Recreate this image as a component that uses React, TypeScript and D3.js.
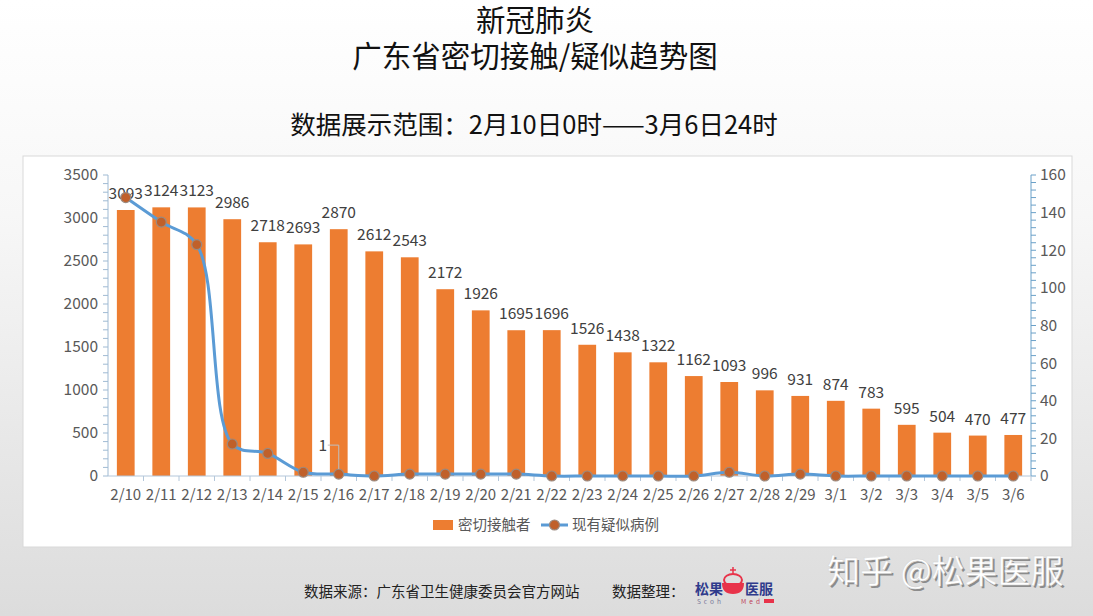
import * as d3 from 'd3'

const W = 1093
const H = 616

// Categories (dates) and series values
const dates = [
  '2/10', '2/11', '2/12', '2/13', '2/14', '2/15', '2/16', '2/17', '2/18', '2/19',
  '2/20', '2/21', '2/22', '2/23', '2/24', '2/25', '2/26', '2/27', '2/28', '2/29',
  '3/1', '3/2', '3/3', '3/4', '3/5', '3/6'
]
const closeContacts = [
  3093, 3124, 3123, 2986, 2718, 2693, 2870, 2612, 2543, 2172,
  1926, 1695, 1696, 1526, 1438, 1322, 1162, 1093, 996, 931,
  874, 783, 595, 504, 470, 477
]
const suspected = [
  148, 135, 123, 17, 12, 2, 1, 0, 1, 1,
  1, 1, 0, 0, 0, 0, 0, 2, 0, 1,
  0, 0, 0, 0, 0, 0
]
const leftTicks = [0, 500, 1000, 1500, 2000, 2500, 3000, 3500]
const rightTicks = [0, 20, 40, 60, 80, 100, 120, 140, 160]
const labeledSuspectedIndex = 6 // only 2/16 carries a value label

const seriesNames = ['密切接触者', '现有疑似病例']

const FONT = '"Noto Sans CJK SC", "Noto Sans", sans-serif'
const BAR = '#ED7D31'
const LINE = '#5B9BD5'

const plot = { left: 108, right: 1031, top: 175, bottom: 476 }

export default function App() {
  const x = d3.scaleBand<string>()
    .domain(dates)
    .range([plot.left, plot.right])
    .paddingInner(0.5)
    .paddingOuter(0.25)
  const band = d3.scaleBand<string>().domain(dates).range([plot.left, plot.right])
  const yL = d3.scaleLinear().domain([0, 3500]).range([plot.bottom, plot.top])
  const yR = d3.scaleLinear().domain([0, 160]).range([plot.bottom, plot.top])

  const cx = (d: string) => band(d)! + band.bandwidth() / 2

  const linePath = d3.line<number>()
    .x((_, i) => cx(dates[i]))
    .y(v => yR(v))
    .curve(d3.curveCatmullRom.alpha(0.5))(suspected)

  const leftMinor = d3.range(0, 3501, 100)
  const rightMinor = d3.range(0, 161, 4)

  const lp = { x: cx(dates[labeledSuspectedIndex]), y: yR(suspected[labeledSuspectedIndex]) }

  return (
    <svg width={W} height={H} style={{ position: 'absolute', left: 0, top: 0 }} fontFamily={FONT}>
      <defs>
        <linearGradient id="bg" x1="0" y1="0" x2="0" y2="1">
          <stop offset="0%" stopColor="#ffffff" />
          <stop offset="35%" stopColor="#f7f7f7" />
          <stop offset="100%" stopColor="#dcdcdc" />
        </linearGradient>
      </defs>
      <rect width={W} height={H} fill="url(#bg)" />

      {/* titles */}
      <text x={535} y={31} textAnchor="middle" fontSize={29.5} fill="#111">新冠肺炎</text>
      <text x={535} y={67} textAnchor="middle" fontSize={29.5} fill="#111">广东省密切接触/疑似趋势图</text>
      <text x={534} y={134} textAnchor="middle" fontSize={25.5} fill="#111">数据展示范围：2月10日0时——3月6日24时</text>

      {/* chart box */}
      <rect x={23} y={156} width={1049} height={391} fill="#fff" stroke="#d9d9d9" />

      {/* bars */}
      {closeContacts.map((v, i) => (
        <rect key={dates[i]} x={x(dates[i])} y={yL(v)} width={x.bandwidth()}
          height={plot.bottom - yL(v)} fill={BAR} />
      ))}

      {/* bar labels */}
      {closeContacts.map((v, i) => (
        <text key={'l' + dates[i]} x={cx(dates[i])} y={yL(v) - 11} textAnchor="middle"
          fontSize={15.5} fill="#404040">{v}</text>
      ))}

      {/* left axis */}
      <line x1={plot.left} x2={plot.left} y1={plot.top} y2={plot.bottom} stroke="#9fbad3" />
      {leftMinor.map(t => (
        <line key={'lm' + t} x1={plot.left - 5} x2={plot.left} y1={yL(t)} y2={yL(t)} stroke="#9fbad3" />
      ))}
      {leftTicks.map(t => (
        <text key={'lt' + t} x={plot.left - 10} y={yL(t)} dy="0.35em" textAnchor="end"
          fontSize={15.5} fill="#595959">{t}</text>
      ))}

      {/* right axis */}
      <line x1={plot.right} x2={plot.right} y1={plot.top} y2={plot.bottom} stroke="#6aa0c8" />
      {rightMinor.map(t => (
        <line key={'rm' + t} x1={plot.right} x2={plot.right + 5} y1={yR(t)} y2={yR(t)} stroke="#6aa0c8" />
      ))}
      {rightTicks.map(t => (
        <text key={'rt' + t} x={plot.right + 9} y={yR(t)} dy="0.35em" textAnchor="start"
          fontSize={15.5} fill="#595959">{t}</text>
      ))}

      {/* x axis */}
      <line x1={plot.left} x2={plot.right} y1={plot.bottom} y2={plot.bottom} stroke="#b4c7da" />
      {dates.map(d => (
        <line key={'xt' + d} x1={band(d)! + band.bandwidth()} x2={band(d)! + band.bandwidth()}
          y1={plot.bottom} y2={plot.bottom + 5} stroke="#b4c7da" />
      ))}
      {dates.map(d => (
        <text key={'xl' + d} x={cx(d)} y={plot.bottom + 24} textAnchor="middle"
          fontSize={15} fill="#595959">{d}</text>
      ))}

      {/* suspected line */}
      <path d={linePath ?? ''} fill="none" stroke={LINE} strokeWidth={3} />
      {suspected.map((v, i) => (
        <circle key={'p' + dates[i]} cx={cx(dates[i])} cy={yR(v)} r={5}
          fill="#c0602a" stroke="#9c8a7f" strokeWidth={1.2} />
      ))}

      {/* the one line value label with leader */}
      <polyline points={`${lp.x - 11},${lp.y - 29} ${lp.x},${lp.y - 29} ${lp.x},${lp.y - 5}`}
        fill="none" stroke="#bfbfbf" />
      <text x={lp.x - 16} y={lp.y - 23} textAnchor="middle" fontSize={15.5} fill="#404040">
        {suspected[labeledSuspectedIndex]}
      </text>

      {/* legend */}
      <rect x={433} y={520} width={20} height={10} fill={BAR} />
      <text x={458} y={530} fontSize={14.5} fill="#595959">{seriesNames[0]}</text>
      <line x1={541} x2={568} y1={525} y2={525} stroke={LINE} strokeWidth={3} />
      <circle cx={554.5} cy={525} r={5} fill="#c0602a" stroke="#9c8a7f" strokeWidth={1.2} />
      <text x={572} y={530} fontSize={14.5} fill="#595959">{seriesNames[1]}</text>

      {/* footer */}
      <text x={304} y={597} fontSize={14.5} fill="#222">数据来源：广东省卫生健康委员会官方网站</text>
      <text x={612} y={597} fontSize={14.5} fill="#222">数据整理：</text>

      {/* logo */}
      <text x={695} y={594} fontSize={14} fontWeight="bold" fill="#2f3b8c">松果</text>
      <path d="M722,583 Q722,594 733,594 Q744,594 744,583 Z" fill="#e8334a" />
      <ellipse cx={733} cy={580} rx={9} ry={6} fill="none" stroke="#e8334a" strokeWidth={2} />
      <line x1={733} x2={733} y1={567} y2={574} stroke="#e8334a" strokeWidth={1.5} />
      <line x1={730} x2={736} y1={570} y2={570} stroke="#e8334a" strokeWidth={1.5} />
      <text x={745} y={594} fontSize={14} fontWeight="bold" fill="#2f3b8c">医服</text>
      <text x={697} y={604} fontSize={6.5} fill="#7a7a9a" letterSpacing={3}>Scoh</text>
      <text x={741} y={604} fontSize={6.5} fill="#c0445a" letterSpacing={3}>Med</text>
      <rect x={764} y={599} width={10} height={4} fill="#e8334a" />

      {/* watermark */}
      <text x={829} y={585} fontSize={33} fill="#8c8c8c">知乎 @松果医服</text>
      <text x={827} y={583} fontSize={33} fill="#ffffff" stroke="#d0d0d0" strokeWidth={0.4}>知乎 @松果医服</text>
    </svg>
  )
}
